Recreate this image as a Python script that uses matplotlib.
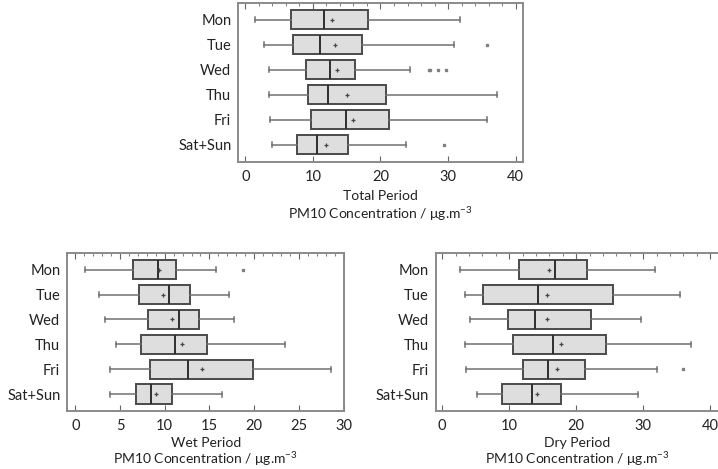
import matplotlib
matplotlib.use('Agg')
from matplotlib import pyplot as plt
from matplotlib import transforms
from matplotlib.ticker import MultipleLocator

plt.rcParams['font.family'] = ['Lato', 'DejaVu Sans']
plt.rcParams['mathtext.fontset'] = 'custom'
plt.rcParams['mathtext.rm'] = 'Lato'
plt.rcParams['mathtext.it'] = 'Lato'

days = ['Mon', 'Tue', 'Wed', 'Thu', 'Fri', 'Sat+Sun']

# Total period
total_lo = [1.4, 2.7, 3.5, 3.5, 3.6, 4.0]
total_q1 = [6.7, 7.0, 9.0, 9.2, 9.7, 7.6]
total_med = [11.6, 11.0, 12.5, 12.3, 14.9, 10.6]
total_mean = [12.8, 13.2, 13.6, 15.1, 15.9, 11.9]
total_q3 = [18.2, 17.2, 16.3, 20.8, 21.2, 15.2]
total_hi = [31.8, 30.9, 24.3, 37.2, 35.8, 23.8]
total_fliers = [[], [35.7], [27.2, 27.4, 28.5, 29.7], [], [], [29.4]]

# Wet period
wet_lo = [1.1, 2.6, 3.3, 4.5, 3.9, 3.9]
wet_q1 = [6.5, 7.1, 8.1, 7.4, 8.4, 6.8]
wet_med = [9.3, 10.5, 11.6, 11.1, 12.6, 8.5]
wet_mean = [9.4, 9.8, 10.8, 11.9, 14.2, 9.0]
wet_q3 = [11.3, 12.8, 13.8, 14.7, 19.9, 10.8]
wet_hi = [15.7, 17.2, 17.7, 23.4, 28.6, 16.4]
wet_fliers = [[18.7], [], [], [], [], []]

# Dry period
dry_lo = [2.7, 3.4, 4.1, 3.4, 3.6, 5.2]
dry_q1 = [11.4, 6.1, 9.8, 10.5, 12.0, 8.9]
dry_med = [16.9, 14.3, 13.8, 16.5, 15.8, 13.4]
dry_mean = [16.0, 15.6, 15.6, 17.8, 17.2, 14.2]
dry_q3 = [21.6, 25.5, 22.2, 24.5, 21.3, 17.8]
dry_hi = [31.8, 35.5, 29.7, 37.1, 32.0, 29.3]
dry_fliers = [[], [], [], [], [35.9], []]

EDGE = '#4a4a4a'
WHISK = '#707070'
FACE = '#dedede'
TXT = '#222222'


def draw(ax, lo, q1, med, mean, q3, hi, fliers, xlim, major, minor, title, y1, y2):
    stats = []
    for i in range(len(days)):
        stats.append(dict(whislo=lo[i], q1=q1[i], med=med[i], mean=mean[i],
                          q3=q3[i], whishi=hi[i], fliers=fliers[i]))
    ax.bxp(stats, positions=range(1, 7), vert=False, widths=0.77,
           patch_artist=True, showmeans=True, capwidths=0.2,
           boxprops=dict(facecolor=FACE, edgecolor=EDGE, linewidth=1.4),
           medianprops=dict(color='#2e2e2e', linewidth=1.4),
           whiskerprops=dict(color=WHISK, linewidth=1.1),
           capprops=dict(color=WHISK, linewidth=1.1),
           meanprops=dict(marker='+', markeredgecolor='#444444', markersize=3.2,
                          markeredgewidth=0.9),
           flierprops=dict(marker='s', markersize=1.8, markerfacecolor='#808080',
                           markeredgecolor='#808080'))
    ax.set_ylim(6.68, 0.32)
    ax.set_yticks(range(1, 7))
    ax.set_yticklabels(days, fontsize=10.5, color=TXT)
    ax.set_xlim(*xlim)
    ax.xaxis.set_major_locator(MultipleLocator(major))
    ax.xaxis.set_minor_locator(MultipleLocator(minor))
    ax.tick_params(axis='x', which='both', direction='in', top=True, bottom=True,
                   labelsize=10.5, labelcolor=TXT, color='#666666', pad=6)
    ax.tick_params(axis='x', which='major', length=4)
    ax.tick_params(axis='x', which='minor', bottom=False, length=2.5)
    ax.tick_params(axis='y', length=0, pad=5)
    for s in ax.spines.values():
        s.set_color('#8a8a8a')
        s.set_linewidth(1.4)
    tr = transforms.blended_transform_factory(ax.transAxes, ax.figure.transFigure)
    ax.text(0.5, 1 - y1 / 469, title, transform=tr, ha='center', va='center',
            fontsize=10, color=TXT)
    ax.text(0.5, 1 - y2 / 469, 'PM10 Concentration / μg.m$^{-3}$', transform=tr,
            ha='center', va='center', fontsize=10, color=TXT)


fig = plt.figure(figsize=(7.18, 4.69), dpi=100)
ax1 = fig.add_axes([0.3319, 0.6552, 0.397, 0.339])
ax2 = fig.add_axes([0.0937, 0.1237, 0.3854, 0.3375])
ax3 = fig.add_axes([0.6068, 0.1237, 0.3953, 0.3375])

draw(ax1, total_lo, total_q1, total_med, total_mean, total_q3, total_hi,
     total_fliers, (-1.05, 41.15), 10, 2, 'Total Period', 196, 214)
draw(ax2, wet_lo, wet_q1, wet_med, wet_mean, wet_q3, wet_hi,
     wet_fliers, (-0.9, 30.05), 5, 1, 'Wet Period', 442.5, 459.5)
draw(ax3, dry_lo, dry_q1, dry_med, dry_mean, dry_q3, dry_hi,
     dry_fliers, (-0.98, 41.4), 10, 2, 'Dry Period', 442.5, 459.5)

plt.savefig('out.png', dpi=100)
